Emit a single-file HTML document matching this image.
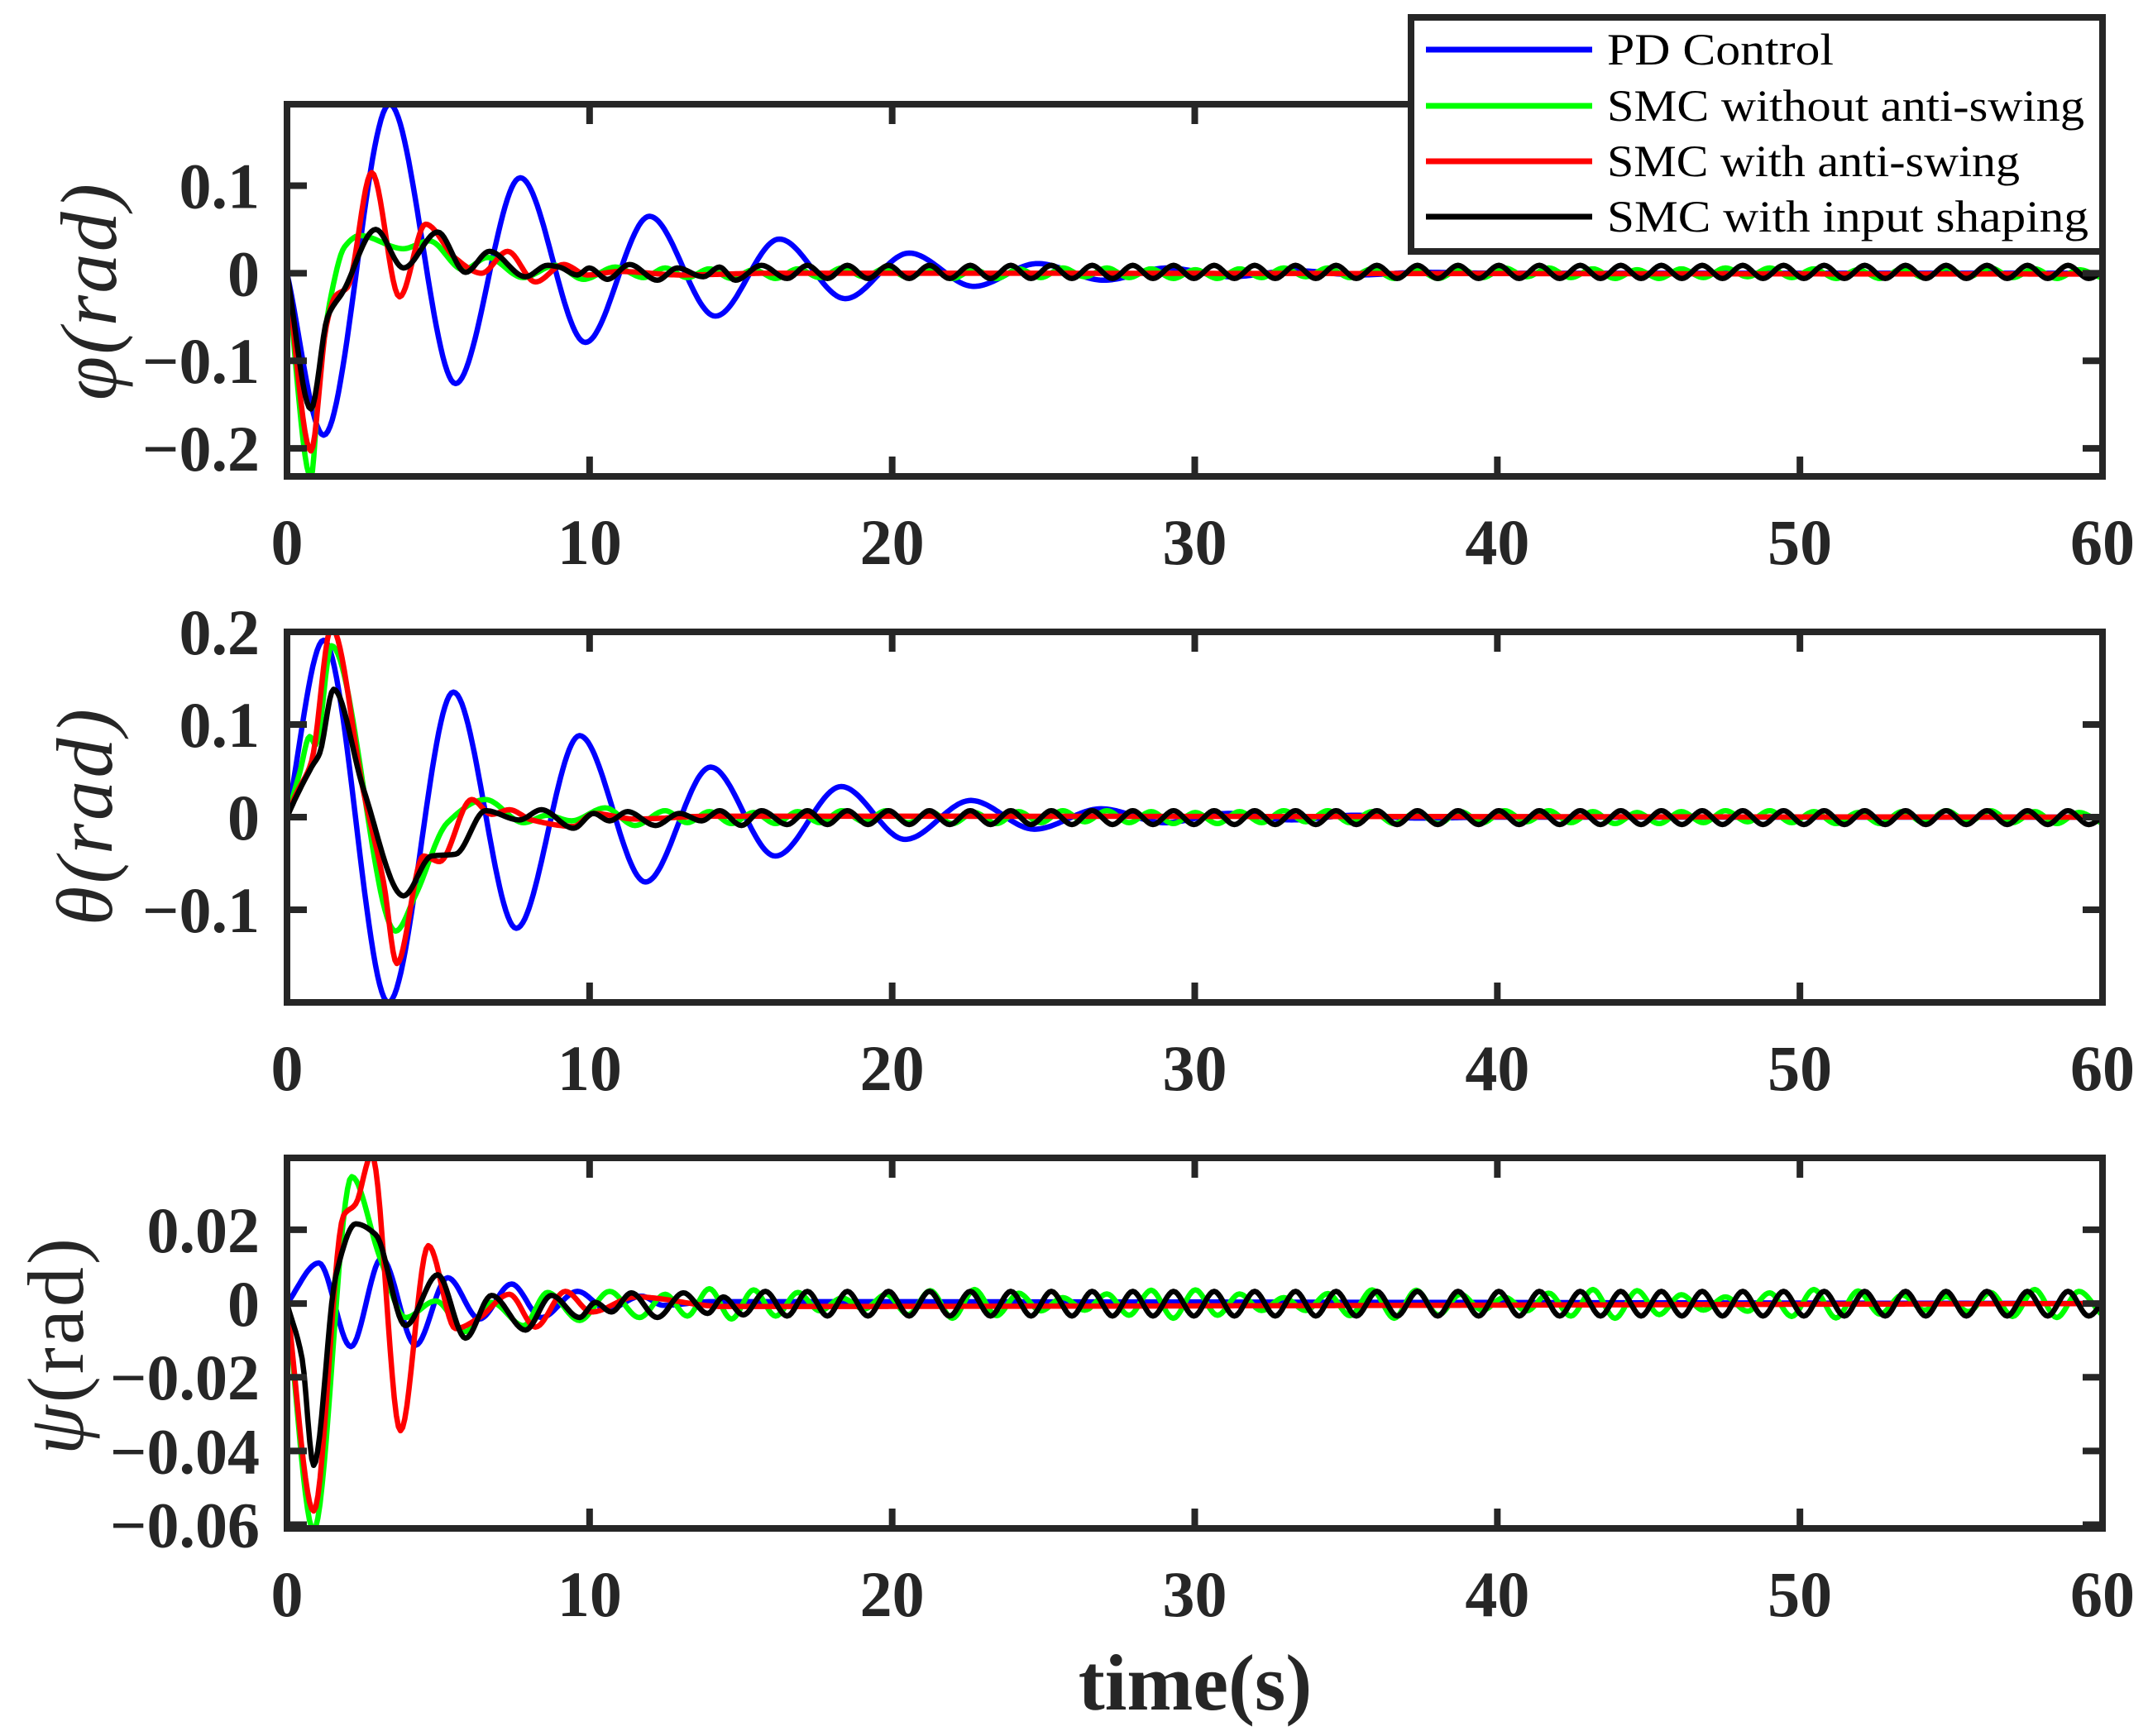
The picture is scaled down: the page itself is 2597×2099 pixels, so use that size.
<!DOCTYPE html>
<html><head><meta charset="utf-8"><style>html,body{margin:0;padding:0;background:#fff}svg{display:block}</style></head>
<body>
<svg id="chart" xmlns="http://www.w3.org/2000/svg" width="2597" height="2099" viewBox="0 0 2597 2099">
<rect x="0" y="0" width="2597" height="2099" fill="#fff"/>
<g id="plots"></g>
<text x="1445" y="2067" text-anchor="middle" font-family="Liberation Serif, serif" font-weight="bold" font-size="96" fill="#262626">time(s)</text>
<text transform="translate(140,353) rotate(-90)" text-anchor="middle" font-family="Liberation Serif, serif" font-style="italic" font-size="96" fill="#262626" textLength="262" lengthAdjust="spacing">φ(rad)</text>
<text transform="translate(135,988) rotate(-90)" text-anchor="middle" font-family="Liberation Serif, serif" font-style="italic" font-size="96" fill="#262626" textLength="262" lengthAdjust="spacing">θ(rad)</text>
<text transform="translate(100,1628) rotate(-90)" text-anchor="middle" font-family="Liberation Serif, serif" font-size="96" fill="#262626" textLength="262" lengthAdjust="spacing"><tspan font-style="italic">ψ</tspan>(rad)</text>
<g id="legend">
<rect x="1706" y="21" width="836" height="283" fill="#fff" stroke="#262626" stroke-width="8"/>
<line x1="1724" y1="60" x2="1925" y2="60" stroke="#0000ff" stroke-width="7"/>
<line x1="1724" y1="128" x2="1925" y2="128" stroke="#00ff00" stroke-width="7"/>
<line x1="1724" y1="195" x2="1925" y2="195" stroke="#ff0000" stroke-width="7"/>
<line x1="1724" y1="262" x2="1925" y2="262" stroke="#000000" stroke-width="7"/>
<text x="1943" y="78" font-family="Liberation Serif, serif" font-size="54" fill="#000" textLength="274" lengthAdjust="spacingAndGlyphs">PD Control</text>
<text x="1943" y="146" font-family="Liberation Serif, serif" font-size="54" fill="#000" textLength="577" lengthAdjust="spacingAndGlyphs">SMC without anti-swing</text>
<text x="1943" y="213" font-family="Liberation Serif, serif" font-size="54" fill="#000" textLength="499" lengthAdjust="spacingAndGlyphs">SMC with anti-swing</text>
<text x="1943" y="280" font-family="Liberation Serif, serif" font-size="54" fill="#000" textLength="582" lengthAdjust="spacingAndGlyphs">SMC with input shaping</text>
</g>
</svg>
<script>
const xTicks = [0,10,20,30,40,50,60];
const xTickLabels = ["0","10","20","30","40","50","60"];
const phiTicks = [-0.2,-0.1,0,0.1];
const phiTickLabels = ["\u22120.2","\u22120.1","0","0.1"];
const thetaTicks = [-0.1,0,0.1,0.2];
const thetaTickLabels = ["\u22120.1","0","0.1","0.2"];
const psiTicks = [-0.06,-0.04,-0.02,0,0.02];
const psiTickLabels = ["\u22120.06","\u22120.04","\u22120.02","0","0.02"];

const blackTailT = [16.53,17.2,17.86,18.52,19.2,19.88,20.56,21.23,21.90,22.58,23.25,23.92,24.59,25.26,25.94,26.61,27.28,27.95,28.62,29.30,29.97,30.64,31.31,31.98,32.66,33.33,34.00,34.67,35.34,36.02,36.69,37.36,38.03,38.70,39.38,40.05,40.72,41.39,42.06,42.74,43.41,44.08,44.75,45.42,46.10,46.77,47.44,48.11,48.78,49.46,50.13,50.80,51.47,52.14,52.82,53.49,54.16,54.83,55.50,56.18,56.85,57.52,58.19,58.86,59.54,60.21];
const greenTailT = [12.5,13.23,13.96,14.69,15.42,16.15,16.88,17.61,18.34,19.07,19.8,20.53,21.26,21.99,22.72,23.45,24.18,24.91,25.64,26.37,27.1,27.83,28.56,29.29,30.02,30.75,31.48,32.21,32.94,33.67,34.4,35.13,35.86,36.59,37.32,38.05,38.78,39.51,40.24,40.97,41.7,42.43,43.16,43.89,44.62,45.35,46.08,46.81,47.54,48.27,49.0,49.73,50.46,51.19,51.92,52.65,53.38,54.11,54.84,55.57,56.3,57.03,57.76,58.49,59.22,59.95];

const phiBlackTailV = [-0.006,0.009,-0.006,0.009,-0.006,0.009,-0.006,0.009,-0.006,0.009,-0.006,0.009,-0.006,0.009,-0.006,0.009,-0.006,0.009,-0.006,0.009,-0.006,0.009,-0.006,0.009,-0.006,0.009,-0.006,0.009,-0.006,0.009,-0.006,0.009,-0.006,0.009,-0.006,0.009,-0.006,0.009,-0.006,0.009,-0.006,0.009,-0.006,0.009,-0.006,0.009,-0.006,0.009,-0.006,0.009,-0.006,0.009,-0.006,0.009,-0.006,0.009,-0.006,0.009,-0.006,0.009,-0.006,0.009,-0.006,0.009,-0.006,0.009];
const thetaBlackTailV = [-0.008,0.007,-0.008,0.007,-0.008,0.007,-0.008,0.007,-0.008,0.007,-0.008,0.007,-0.008,0.007,-0.008,0.007,-0.008,0.007,-0.008,0.007,-0.008,0.007,-0.008,0.007,-0.008,0.007,-0.008,0.007,-0.008,0.007,-0.008,0.007,-0.008,0.007,-0.008,0.007,-0.008,0.007,-0.008,0.007,-0.008,0.007,-0.008,0.007,-0.008,0.007,-0.008,0.007,-0.008,0.007,-0.008,0.007,-0.008,0.007,-0.008,0.007,-0.008,0.007,-0.008,0.007,-0.008,0.007,-0.008,0.007,-0.008,0.007];
const psiBlackTailV = [-0.0034,0.0033,-0.0034,0.0033,-0.0034,0.0033,-0.0034,0.0033,-0.0034,0.0033,-0.0034,0.0033,-0.0034,0.0033,-0.0034,0.0033,-0.0034,0.0033,-0.0034,0.0033,-0.0034,0.0033,-0.0034,0.0033,-0.0034,0.0033,-0.0034,0.0033,-0.0034,0.0033,-0.0034,0.0033,-0.0034,0.0033,-0.0034,0.0033,-0.0034,0.0033,-0.0034,0.0033,-0.0034,0.0033,-0.0034,0.0033,-0.0034,0.0033,-0.0034,0.0033,-0.0034,0.0033,-0.0034,0.0033,-0.0034,0.0033,-0.0034,0.0033,-0.0034,0.0033,-0.0034,0.0033,-0.0034,0.0033,-0.0034,0.0033,-0.0034,0.0033];
const phiGreenTailV = [0.006,-0.005,0.005,-0.006,0.004,-0.006,0.005,-0.005,0.006,-0.004,0.006,-0.005,0.005,-0.006,0.004,-0.006,0.005,-0.005,0.006,-0.004,0.006,-0.005,0.005,-0.006,0.004,-0.006,0.005,-0.005,0.006,-0.004,0.006,-0.005,0.005,-0.006,0.004,-0.006,0.005,-0.005,0.006,-0.004,0.006,-0.005,0.005,-0.006,0.004,-0.006,0.005,-0.005,0.006,-0.004,0.006,-0.005,0.005,-0.006,0.004,-0.006,0.005,-0.005,0.006,-0.004,0.006,-0.005,0.005,-0.006,0.004,-0.005];
const thetaGreenTailV = [0.007,-0.006,0.006,-0.007,0.005,-0.007,0.006,-0.006,0.007,-0.005,0.007,-0.006,0.006,-0.007,0.005,-0.007,0.006,-0.006,0.007,-0.005,0.007,-0.006,0.006,-0.007,0.005,-0.007,0.006,-0.006,0.007,-0.005,0.007,-0.006,0.006,-0.007,0.005,-0.007,0.006,-0.006,0.007,-0.005,0.007,-0.006,0.006,-0.007,0.005,-0.007,0.006,-0.006,0.007,-0.005,0.007,-0.006,0.006,-0.007,0.005,-0.007,0.006,-0.006,0.007,-0.005,0.007,-0.006,0.006,-0.007,0.005,-0.006];
const psiGreenTailV = [0.0025,-0.0034,0.004,-0.0042,0.0037,-0.0034,0.003,-0.002,0.0015,-0.0015,0.0025,-0.003,0.0035,-0.004,0.0038,-0.0033,0.0028,-0.002,0.0016,-0.0018,0.0026,-0.0032,0.0036,-0.004,0.0037,-0.0032,0.0026,-0.0019,0.0016,-0.0019,0.0027,-0.0033,0.0037,-0.004,0.0036,-0.0031,0.0025,-0.0018,0.0017,-0.002,0.0028,-0.0034,0.0038,-0.004,0.0035,-0.003,0.0024,-0.0018,0.0018,-0.0021,0.0029,-0.0035,0.0038,-0.0039,0.0034,-0.0029,0.0023,-0.0018,0.0019,-0.0022,0.003,-0.0035,0.0038,-0.0038,0.0033,-0.0028];

const phiPD = [[0,0],[1.21,-0.185],[3.39,0.193],[5.57,-0.126],[7.71,0.109],[9.86,-0.079],[11.98,0.065],[14.16,-0.049],[16.27,0.039],[18.45,-0.029],[20.56,0.023],[22.7,-0.015],[24.8,0.011],[27,-0.008],[29.1,0.006],[31.2,-0.004],[33.3,0.003],[35.4,-0.002],[37.5,0.001],[40,0],[60,0]];
const phiGreen = [[0,0],[0.79,-0.233],[1.08,-0.117],[1.47,-0.023],[1.9,0.03],[2.4,0.043],[3.85,0.028],[4.7,0.037],[5.83,0.004],[6.63,0.018],[7.8,-0.005],[8.87,0.009],[9.8,-0.007],[10.85,0.007],[11.78,-0.005]];
const phiRed = [[0,0],[0.79,-0.203],[1.3,-0.06],[1.6,-0.026],[2.0,-0.016],[2.8,0.115],[3.72,-0.027],[4.58,0.056],[5.57,0.017],[6.43,0],[7.29,0.025],[8.21,-0.010],[9.14,0.010],[9.93,-0.002],[11,0.002],[13,-0.002],[16,0],[60,-0.001]];
const phiBlack = [[0,0],[0.79,-0.155],[1.34,-0.05],[1.87,-0.02],[2.93,0.05],[3.85,0.006],[4.98,0.047],[5.9,0.001],[6.69,0.025],[7.88,-0.004],[8.61,0.009],[9.0,0.007],[9.6,-0.002],[9.99,0.006],[10.59,-0.007],[11.32,0.010],[12.24,-0.008],[12.9,0.006],[13.76,-0.004],[14.29,0.007],[14.82,-0.008],[15.68,0.009]];

const thetaPD = [[0,0],[1.21,0.191],[3.35,-0.2],[5.5,0.135],[7.58,-0.12],[9.67,0.088],[11.85,-0.070],[14.0,0.054],[16.14,-0.042],[18.32,0.033],[20.43,-0.024],[22.6,0.018],[24.7,-0.013],[26.9,0.009],[29,-0.006],[31.1,0.004],[33.2,-0.003],[35.3,0.002],[37.4,-0.001],[40,0],[60,0]];
const thetaGreen = [[0,0],[0.42,0.048],[0.75,0.087],[0.95,0.078],[1.47,0.185],[3.59,-0.123],[4.25,-0.084],[5.3,-0.006],[6.56,0.019],[7.82,-0.006],[8.6,0.002],[9.4,-0.004],[10.52,0.010],[11.5,-0.009]];
const thetaRed = [[0,0],[0.29,0.024],[0.81,0.06],[1.47,0.205],[2.53,0.027],[3.19,-0.07],[3.63,-0.158],[4.51,-0.042],[5.04,-0.048],[6.1,0.019],[6.76,0.003],[7.35,0.008],[8.08,-0.003],[9.47,-0.01],[10.13,0.004],[11.5,-0.002],[14,0.001],[60,0]];
const thetaBlack = [[0,0],[0.29,0.021],[0.81,0.054],[1.08,0.069],[1.54,0.138],[2.53,0.03],[3.85,-0.085],[4.78,-0.042],[5.57,-0.04],[6.56,0.007],[7.68,-0.003],[8.41,0.008],[9.47,-0.012],[10.13,0.004],[10.66,-0.004],[11.25,0.006],[12.18,-0.009],[12.97,0.004],[13.7,-0.004],[14.3,0.007],[15.02,-0.009],[15.68,0.007]];

const psiPD = [[0,0],[1.05,0.011],[2.11,-0.0117],[3.13,0.0123],[4.25,-0.0113],[5.31,0.007],[6.36,-0.0042],[7.42,0.0053],[8.41,-0.0038],[9.6,0.0033],[10.59,-0.0016],[11.71,0.002],[12.44,-0.0005],[14,0.0005],[60,0]];
const psiGreen = [[0,0],[0.88,-0.0615],[2.14,0.0344],[3.06,0.0127],[3.92,-0.0038],[4.91,0.0007],[5.9,-0.0076],[6.76,0.0003],[7.82,-0.006],[8.61,0.003],[9.67,-0.0046],[10.66,0.0033],[11.65,-0.0038]];
const psiRed = [[0,0],[0.88,-0.0563],[1.87,0.0239],[2.27,0.027],[2.8,0.0404],[3.75,-0.0345],[4.67,0.0157],[5.57,-0.0068],[6.36,-0.0038],[7.35,0.0025],[8.21,-0.0064],[9.2,0.0033],[10.06,-0.0023],[11.52,0.0018],[14.42,-0.0008],[60,0]];
const psiBlack = [[0,0],[0.5,-0.015],[0.88,-0.0439],[1.61,0.0074],[2.27,0.0216],[2.93,0.0187],[3.92,-0.006],[4.98,0.0078],[5.9,-0.0094],[6.76,0.0022],[7.88,-0.0072],[8.74,0.0022],[9.67,-0.0038],[10.19,0.0003],[10.72,-0.0023],[11.38,0.0029],[12.24,-0.0038],[13.1,0.0029],[13.9,-0.0027],[14.42,0.0018],[15.08,-0.0031],[15.81,0.0033]];

const NS = "http://www.w3.org/2000/svg";
const X0 = 347, X1 = 2542, XMAX = 60;
function xScale(t){ return X0 + (t / XMAX) * (X1 - X0); }

function withTail(base, tt, tv){
  const out = base.slice();
  for (let i = 0; i < tt.length; i++) out.push([tt[i], tv[i]]);
  return out;
}

function monotone(pts){
  const n = pts.length, xs = pts.map(p=>p[0]), ys = pts.map(p=>p[1]);
  const d = [], m = new Array(n).fill(0);
  for (let i=0;i<n-1;i++) d.push((ys[i+1]-ys[i])/(xs[i+1]-xs[i]));
  m[0]=d[0]; m[n-1]=d[n-2];
  for (let i=1;i<n-1;i++){ m[i] = (d[i-1]*d[i] <= 0) ? 0 : (2/(1/d[i-1]+1/d[i])) ; }
  const out = [];
  for (let i=0;i<n-1;i++){
    const h = xs[i+1]-xs[i], steps = Math.max(6, Math.ceil(h*14));
    for (let s=0;s<steps;s++){
      const u = s/steps, u2=u*u, u3=u2*u;
      const y = (2*u3-3*u2+1)*ys[i] + (u3-2*u2+u)*h*m[i] + (-2*u3+3*u2)*ys[i+1] + (u3-u2)*h*m[i+1];
      out.push([xs[i]+u*h, y]);
    }
  }
  out.push([xs[n-1], ys[n-1]]);
  return out;
}

const panels = [
  {key:'phi', top:126, bottom:576, ymin:-0.232, ymax:0.193, ticks:phiTicks, labels:phiTickLabels, labY:682,
   series:[phiPD, withTail(phiGreen, greenTailT, phiGreenTailV), phiRed, withTail(phiBlack, blackTailT, phiBlackTailV)]},
  {key:'theta', top:764, bottom:1212, ymin:-0.2, ymax:0.2, ticks:thetaTicks, labels:thetaTickLabels, labY:1318,
   series:[thetaPD, withTail(thetaGreen, greenTailT, thetaGreenTailV), thetaRed, withTail(thetaBlack, blackTailT, thetaBlackTailV)]},
  {key:'psi', top:1400, bottom:1848, ymin:-0.061, ymax:0.0395, ticks:psiTicks, labels:psiTickLabels, labY:1954,
   series:[psiPD, withTail(psiGreen, greenTailT, psiGreenTailV), psiRed, withTail(psiBlack, blackTailT, psiBlackTailV)]}
];
const colors = ['#0000ff','#00ff00','#ff0000','#000000'];
const seriesNames = ['pd-control','smc-without-anti-swing','smc-with-anti-swing','smc-with-input-shaping'];
const root = document.getElementById('plots');

panels.forEach((p, pi) => {
  const yScale = v => p.bottom - (v - p.ymin) / (p.ymax - p.ymin) * (p.bottom - p.top);
  const g = document.createElementNS(NS,'g');
  
  
  root.appendChild(g);
  const clip = document.createElementNS(NS,'clipPath');
  clip.setAttribute('id','clip'+pi);
  const cr = document.createElementNS(NS,'rect');
  cr.setAttribute('x',X0); cr.setAttribute('y',p.top); cr.setAttribute('width',X1-X0); cr.setAttribute('height',p.bottom-p.top);
  clip.appendChild(cr); g.appendChild(clip);
  p.series.forEach((s, si) => {
    const pts = monotone(s);
    const path = document.createElementNS(NS,'path');
    path.setAttribute('d', pts.map((q,i)=>(i?'L':'M')+xScale(q[0]).toFixed(1)+' '+yScale(q[1]).toFixed(1)).join(''));
    path.setAttribute('fill','none');
    path.setAttribute('stroke',colors[si]);
    path.setAttribute('stroke-width', '6.5');
    path.setAttribute('stroke-linejoin','round');
    path.setAttribute('clip-path','url(#clip'+pi+')');
    
    
    g.appendChild(path);
  });
  const box = document.createElementNS(NS,'rect');
  box.setAttribute('x',X0); box.setAttribute('y',p.top); box.setAttribute('width',X1-X0); box.setAttribute('height',p.bottom-p.top);
  box.setAttribute('fill','none'); box.setAttribute('stroke','#262626'); box.setAttribute('stroke-width','8');
  
  
  g.appendChild(box);
  xTicks.forEach((t, i) => {
    const x = xScale(t);
    [[p.bottom, p.bottom-24],[p.top, p.top+24]].forEach(([a,b]) => {
      const l = document.createElementNS(NS,'line');
      l.setAttribute('x1',x); l.setAttribute('x2',x); l.setAttribute('y1',a); l.setAttribute('y2',b);
      l.setAttribute('stroke','#262626'); l.setAttribute('stroke-width','8');
      
      
      g.appendChild(l);
    });
    const tx = document.createElementNS(NS,'text');
    tx.setAttribute('x', x); tx.setAttribute('y', p.labY);
    tx.setAttribute('text-anchor','middle');
    tx.setAttribute('font-family','Liberation Serif, serif'); tx.setAttribute('font-weight','bold');
    tx.setAttribute('font-size','78'); tx.setAttribute('fill','#262626');
    tx.textContent = xTickLabels[i];
    
    
    g.appendChild(tx);
  });
  p.ticks.forEach((v, i) => {
    const y = yScale(v);
    [[X0, X0+24],[X1, X1-24]].forEach(([a,b]) => {
      const l = document.createElementNS(NS,'line');
      l.setAttribute('x1',a); l.setAttribute('x2',b); l.setAttribute('y1',y); l.setAttribute('y2',y);
      l.setAttribute('stroke','#262626'); l.setAttribute('stroke-width','8');
      
      
      g.appendChild(l);
    });
    const tx = document.createElementNS(NS,'text');
    tx.setAttribute('x', 314); tx.setAttribute('y', y + 27);
    tx.setAttribute('text-anchor','end');
    tx.setAttribute('font-family','Liberation Serif, serif'); tx.setAttribute('font-weight','bold');
    tx.setAttribute('font-size','78'); tx.setAttribute('fill','#262626');
    tx.textContent = p.labels[i];
    
    
    g.appendChild(tx);
  });
});
</script>
</body></html>
